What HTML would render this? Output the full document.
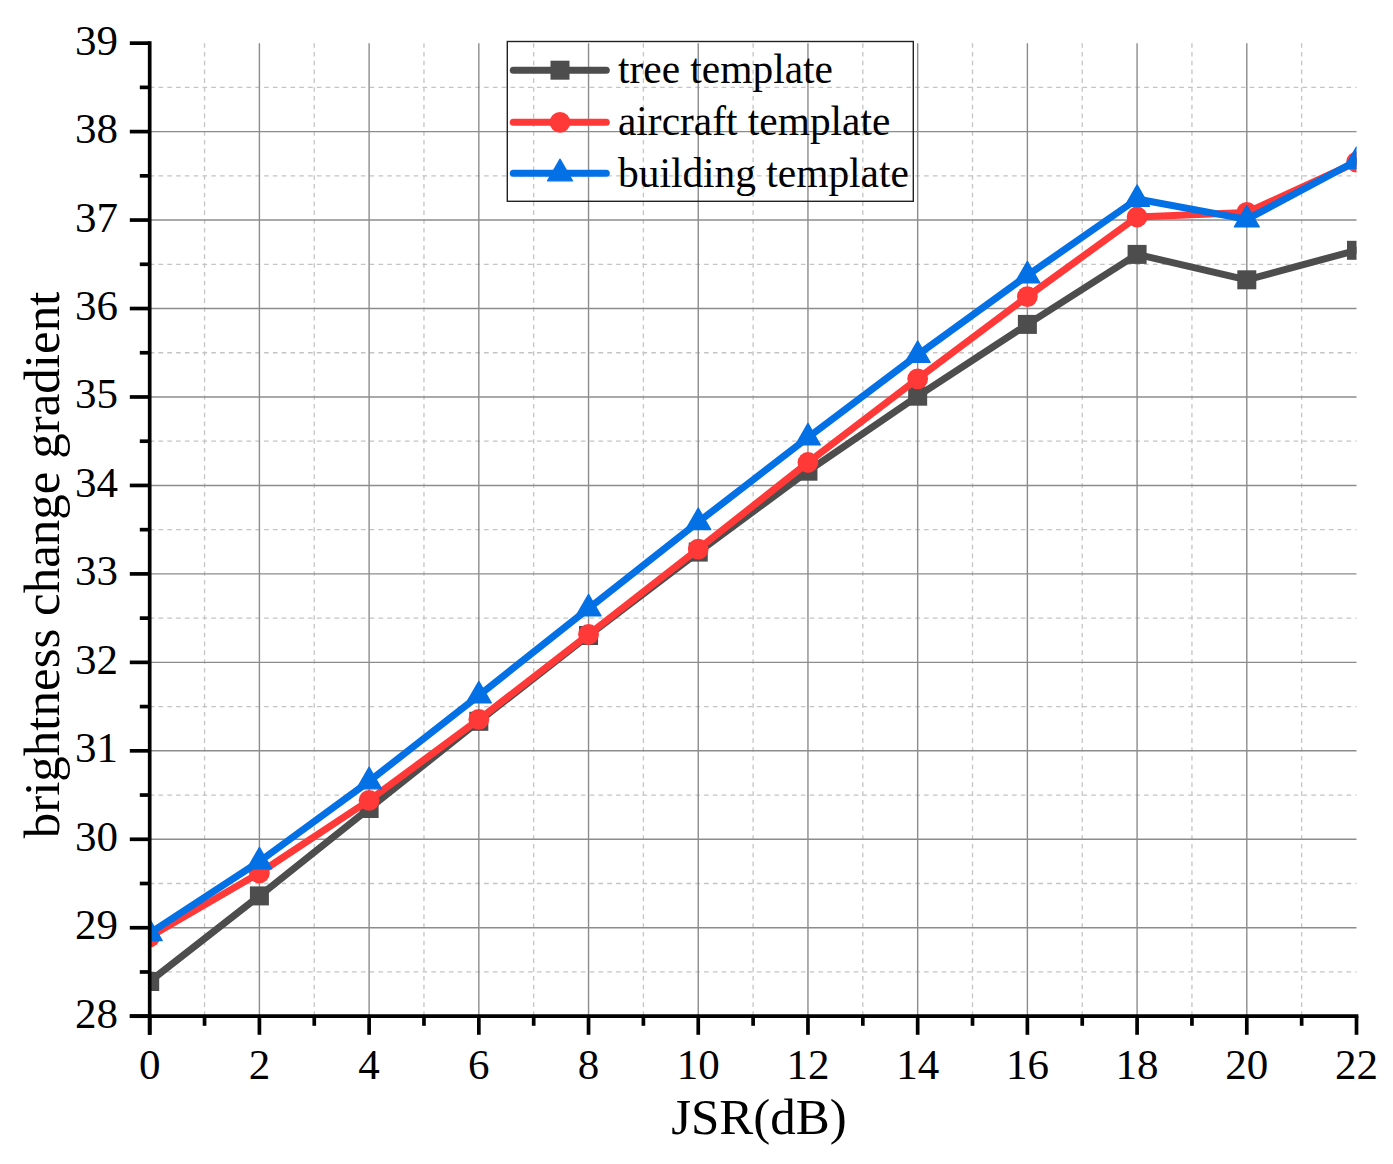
<!DOCTYPE html>
<html><head><meta charset="utf-8"><title>brightness change gradient vs JSR</title>
<style>
html,body{margin:0;padding:0;background:#fff;}
body{width:1393px;height:1164px;overflow:hidden;}
svg{display:block;}
text{font-family:"Liberation Serif",serif;fill:#000;}
</style></head><body>
<svg width="1393" height="1164" viewBox="0 0 1393 1164">
<rect x="0" y="0" width="1393" height="1164" fill="#fff"/>
<defs><clipPath id="pc"><rect x="149.70" y="13.14" width="1206.81" height="1003.06"/></clipPath></defs>
<g stroke="#c4c4c4" stroke-width="1.3" stroke-dasharray="4.6 4.2" fill="none">
<line x1="204.55" y1="43.14" x2="204.55" y2="1016.20"/>
<line x1="314.26" y1="43.14" x2="314.26" y2="1016.20"/>
<line x1="423.97" y1="43.14" x2="423.97" y2="1016.20"/>
<line x1="533.68" y1="43.14" x2="533.68" y2="1016.20"/>
<line x1="643.39" y1="43.14" x2="643.39" y2="1016.20"/>
<line x1="753.11" y1="43.14" x2="753.11" y2="1016.20"/>
<line x1="862.82" y1="43.14" x2="862.82" y2="1016.20"/>
<line x1="972.52" y1="43.14" x2="972.52" y2="1016.20"/>
<line x1="1082.23" y1="43.14" x2="1082.23" y2="1016.20"/>
<line x1="1191.94" y1="43.14" x2="1191.94" y2="1016.20"/>
<line x1="1301.65" y1="43.14" x2="1301.65" y2="1016.20"/>
<line x1="149.70" y1="971.97" x2="1356.51" y2="971.97"/>
<line x1="149.70" y1="883.51" x2="1356.51" y2="883.51"/>
<line x1="149.70" y1="795.05" x2="1356.51" y2="795.05"/>
<line x1="149.70" y1="706.59" x2="1356.51" y2="706.59"/>
<line x1="149.70" y1="618.13" x2="1356.51" y2="618.13"/>
<line x1="149.70" y1="529.67" x2="1356.51" y2="529.67"/>
<line x1="149.70" y1="441.21" x2="1356.51" y2="441.21"/>
<line x1="149.70" y1="352.75" x2="1356.51" y2="352.75"/>
<line x1="149.70" y1="264.29" x2="1356.51" y2="264.29"/>
<line x1="149.70" y1="175.83" x2="1356.51" y2="175.83"/>
<line x1="149.70" y1="87.37" x2="1356.51" y2="87.37"/>
</g>
<g stroke="#8c8c8c" stroke-width="1.4" fill="none">
<line x1="259.41" y1="43.14" x2="259.41" y2="1016.20"/>
<line x1="369.12" y1="43.14" x2="369.12" y2="1016.20"/>
<line x1="478.83" y1="43.14" x2="478.83" y2="1016.20"/>
<line x1="588.54" y1="43.14" x2="588.54" y2="1016.20"/>
<line x1="698.25" y1="43.14" x2="698.25" y2="1016.20"/>
<line x1="807.96" y1="43.14" x2="807.96" y2="1016.20"/>
<line x1="917.67" y1="43.14" x2="917.67" y2="1016.20"/>
<line x1="1027.38" y1="43.14" x2="1027.38" y2="1016.20"/>
<line x1="1137.09" y1="43.14" x2="1137.09" y2="1016.20"/>
<line x1="1246.80" y1="43.14" x2="1246.80" y2="1016.20"/>
<line x1="149.70" y1="927.74" x2="1356.51" y2="927.74"/>
<line x1="149.70" y1="839.28" x2="1356.51" y2="839.28"/>
<line x1="149.70" y1="750.82" x2="1356.51" y2="750.82"/>
<line x1="149.70" y1="662.36" x2="1356.51" y2="662.36"/>
<line x1="149.70" y1="573.90" x2="1356.51" y2="573.90"/>
<line x1="149.70" y1="485.44" x2="1356.51" y2="485.44"/>
<line x1="149.70" y1="396.98" x2="1356.51" y2="396.98"/>
<line x1="149.70" y1="308.52" x2="1356.51" y2="308.52"/>
<line x1="149.70" y1="220.06" x2="1356.51" y2="220.06"/>
<line x1="149.70" y1="131.60" x2="1356.51" y2="131.60"/>
</g>
<g clip-path="url(#pc)">
<polyline points="149.70,981.50 259.41,895.90 369.12,808.50 478.83,721.30 588.54,635.50 698.25,552.10 807.96,471.20 917.67,396.20 1027.38,324.40 1137.09,254.40 1246.80,279.80 1356.51,250.30" fill="none" stroke="#4d4d4d" stroke-width="7.0" stroke-linejoin="round" stroke-linecap="round"/>
<rect x="140.20" y="972.00" width="19.00" height="19.00" fill="#4d4d4d"/>
<rect x="249.91" y="886.40" width="19.00" height="19.00" fill="#4d4d4d"/>
<rect x="359.62" y="799.00" width="19.00" height="19.00" fill="#4d4d4d"/>
<rect x="469.33" y="711.80" width="19.00" height="19.00" fill="#4d4d4d"/>
<rect x="579.04" y="626.00" width="19.00" height="19.00" fill="#4d4d4d"/>
<rect x="688.75" y="542.60" width="19.00" height="19.00" fill="#4d4d4d"/>
<rect x="798.46" y="461.70" width="19.00" height="19.00" fill="#4d4d4d"/>
<rect x="908.17" y="386.70" width="19.00" height="19.00" fill="#4d4d4d"/>
<rect x="1017.88" y="314.90" width="19.00" height="19.00" fill="#4d4d4d"/>
<rect x="1127.59" y="244.90" width="19.00" height="19.00" fill="#4d4d4d"/>
<rect x="1237.30" y="270.30" width="19.00" height="19.00" fill="#4d4d4d"/>
<rect x="1347.01" y="240.80" width="19.00" height="19.00" fill="#4d4d4d"/>
<polyline points="149.70,936.80 259.41,873.00 369.12,800.30 478.83,719.40 588.54,634.50 698.25,549.10 807.96,462.50 917.67,378.80 1027.38,296.60 1137.09,217.00 1246.80,212.40 1356.51,162.20" fill="none" stroke="#ff3838" stroke-width="7.0" stroke-linejoin="round" stroke-linecap="round"/>
<circle cx="149.70" cy="936.80" r="10.40" fill="#ff3838"/>
<circle cx="259.41" cy="873.00" r="10.40" fill="#ff3838"/>
<circle cx="369.12" cy="800.30" r="10.40" fill="#ff3838"/>
<circle cx="478.83" cy="719.40" r="10.40" fill="#ff3838"/>
<circle cx="588.54" cy="634.50" r="10.40" fill="#ff3838"/>
<circle cx="698.25" cy="549.10" r="10.40" fill="#ff3838"/>
<circle cx="807.96" cy="462.50" r="10.40" fill="#ff3838"/>
<circle cx="917.67" cy="378.80" r="10.40" fill="#ff3838"/>
<circle cx="1027.38" cy="296.60" r="10.40" fill="#ff3838"/>
<circle cx="1137.09" cy="217.00" r="10.40" fill="#ff3838"/>
<circle cx="1246.80" cy="212.40" r="10.40" fill="#ff3838"/>
<circle cx="1356.51" cy="162.20" r="10.40" fill="#ff3838"/>
<polyline points="149.70,933.10 259.41,861.50 369.12,781.30 478.83,695.40 588.54,608.40 698.25,522.10 807.96,437.50 917.67,354.90 1027.38,275.40 1137.09,199.00 1246.80,219.40 1356.51,160.90" fill="none" stroke="#0470e6" stroke-width="7.0" stroke-linejoin="round" stroke-linecap="round"/>
<path d="M149.70 918.97L162.20 940.62L137.20 940.62Z" fill="#0470e6" stroke="#0470e6" stroke-width="1.2" stroke-linejoin="round"/>
<path d="M259.41 847.37L271.91 869.02L246.91 869.02Z" fill="#0470e6" stroke="#0470e6" stroke-width="1.2" stroke-linejoin="round"/>
<path d="M369.12 767.17L381.62 788.82L356.62 788.82Z" fill="#0470e6" stroke="#0470e6" stroke-width="1.2" stroke-linejoin="round"/>
<path d="M478.83 681.27L491.33 702.92L466.33 702.92Z" fill="#0470e6" stroke="#0470e6" stroke-width="1.2" stroke-linejoin="round"/>
<path d="M588.54 594.27L601.04 615.92L576.04 615.92Z" fill="#0470e6" stroke="#0470e6" stroke-width="1.2" stroke-linejoin="round"/>
<path d="M698.25 507.97L710.75 529.62L685.75 529.62Z" fill="#0470e6" stroke="#0470e6" stroke-width="1.2" stroke-linejoin="round"/>
<path d="M807.96 423.37L820.46 445.02L795.46 445.02Z" fill="#0470e6" stroke="#0470e6" stroke-width="1.2" stroke-linejoin="round"/>
<path d="M917.67 340.77L930.17 362.42L905.17 362.42Z" fill="#0470e6" stroke="#0470e6" stroke-width="1.2" stroke-linejoin="round"/>
<path d="M1027.38 261.27L1039.88 282.92L1014.88 282.92Z" fill="#0470e6" stroke="#0470e6" stroke-width="1.2" stroke-linejoin="round"/>
<path d="M1137.09 184.87L1149.59 206.52L1124.59 206.52Z" fill="#0470e6" stroke="#0470e6" stroke-width="1.2" stroke-linejoin="round"/>
<path d="M1246.80 205.27L1259.30 226.92L1234.30 226.92Z" fill="#0470e6" stroke="#0470e6" stroke-width="1.2" stroke-linejoin="round"/>
<path d="M1356.51 146.77L1369.01 168.42L1344.01 168.42Z" fill="#0470e6" stroke="#0470e6" stroke-width="1.2" stroke-linejoin="round"/>
</g>
<g stroke="#000" stroke-width="3.7" fill="none" stroke-linecap="butt">
<line x1="149.70" y1="41.29" x2="149.70" y2="1034.80"/>
<line x1="129.80" y1="1016.20" x2="1358.36" y2="1016.20"/>
<line x1="149.70" y1="1016.20" x2="149.70" y2="1034.80"/>
<line x1="204.55" y1="1016.20" x2="204.55" y2="1025.80"/>
<line x1="259.41" y1="1016.20" x2="259.41" y2="1034.80"/>
<line x1="314.26" y1="1016.20" x2="314.26" y2="1025.80"/>
<line x1="369.12" y1="1016.20" x2="369.12" y2="1034.80"/>
<line x1="423.97" y1="1016.20" x2="423.97" y2="1025.80"/>
<line x1="478.83" y1="1016.20" x2="478.83" y2="1034.80"/>
<line x1="533.68" y1="1016.20" x2="533.68" y2="1025.80"/>
<line x1="588.54" y1="1016.20" x2="588.54" y2="1034.80"/>
<line x1="643.39" y1="1016.20" x2="643.39" y2="1025.80"/>
<line x1="698.25" y1="1016.20" x2="698.25" y2="1034.80"/>
<line x1="753.11" y1="1016.20" x2="753.11" y2="1025.80"/>
<line x1="807.96" y1="1016.20" x2="807.96" y2="1034.80"/>
<line x1="862.82" y1="1016.20" x2="862.82" y2="1025.80"/>
<line x1="917.67" y1="1016.20" x2="917.67" y2="1034.80"/>
<line x1="972.52" y1="1016.20" x2="972.52" y2="1025.80"/>
<line x1="1027.38" y1="1016.20" x2="1027.38" y2="1034.80"/>
<line x1="1082.23" y1="1016.20" x2="1082.23" y2="1025.80"/>
<line x1="1137.09" y1="1016.20" x2="1137.09" y2="1034.80"/>
<line x1="1191.94" y1="1016.20" x2="1191.94" y2="1025.80"/>
<line x1="1246.80" y1="1016.20" x2="1246.80" y2="1034.80"/>
<line x1="1301.65" y1="1016.20" x2="1301.65" y2="1025.80"/>
<line x1="1356.51" y1="1016.20" x2="1356.51" y2="1034.80"/>
<line x1="129.80" y1="1016.20" x2="149.70" y2="1016.20"/>
<line x1="139.80" y1="971.97" x2="149.70" y2="971.97"/>
<line x1="129.80" y1="927.74" x2="149.70" y2="927.74"/>
<line x1="139.80" y1="883.51" x2="149.70" y2="883.51"/>
<line x1="129.80" y1="839.28" x2="149.70" y2="839.28"/>
<line x1="139.80" y1="795.05" x2="149.70" y2="795.05"/>
<line x1="129.80" y1="750.82" x2="149.70" y2="750.82"/>
<line x1="139.80" y1="706.59" x2="149.70" y2="706.59"/>
<line x1="129.80" y1="662.36" x2="149.70" y2="662.36"/>
<line x1="139.80" y1="618.13" x2="149.70" y2="618.13"/>
<line x1="129.80" y1="573.90" x2="149.70" y2="573.90"/>
<line x1="139.80" y1="529.67" x2="149.70" y2="529.67"/>
<line x1="129.80" y1="485.44" x2="149.70" y2="485.44"/>
<line x1="139.80" y1="441.21" x2="149.70" y2="441.21"/>
<line x1="129.80" y1="396.98" x2="149.70" y2="396.98"/>
<line x1="139.80" y1="352.75" x2="149.70" y2="352.75"/>
<line x1="129.80" y1="308.52" x2="149.70" y2="308.52"/>
<line x1="139.80" y1="264.29" x2="149.70" y2="264.29"/>
<line x1="129.80" y1="220.06" x2="149.70" y2="220.06"/>
<line x1="139.80" y1="175.83" x2="149.70" y2="175.83"/>
<line x1="129.80" y1="131.60" x2="149.70" y2="131.60"/>
<line x1="139.80" y1="87.37" x2="149.70" y2="87.37"/>
<line x1="129.80" y1="43.14" x2="149.70" y2="43.14"/>
</g>
<g font-size="43" text-anchor="middle">
<text x="149.70" y="1079.00">0</text>
<text x="259.41" y="1079.00">2</text>
<text x="369.12" y="1079.00">4</text>
<text x="478.83" y="1079.00">6</text>
<text x="588.54" y="1079.00">8</text>
<text x="698.25" y="1079.00">10</text>
<text x="807.96" y="1079.00">12</text>
<text x="917.67" y="1079.00">14</text>
<text x="1027.38" y="1079.00">16</text>
<text x="1137.09" y="1079.00">18</text>
<text x="1246.80" y="1079.00">20</text>
<text x="1356.51" y="1079.00">22</text>
</g>
<g font-size="43" text-anchor="end">
<text x="118.00" y="1027.70">28</text>
<text x="118.00" y="939.24">29</text>
<text x="118.00" y="850.78">30</text>
<text x="118.00" y="762.32">31</text>
<text x="118.00" y="673.86">32</text>
<text x="118.00" y="585.40">33</text>
<text x="118.00" y="496.94">34</text>
<text x="118.00" y="408.48">35</text>
<text x="118.00" y="320.02">36</text>
<text x="118.00" y="231.56">37</text>
<text x="118.00" y="143.10">38</text>
<text x="118.00" y="54.64">39</text>
</g>
<text x="759" y="1134.3" font-size="51" text-anchor="middle">JSR(dB)</text>
<text transform="translate(58.5 565) rotate(-90)" font-size="51" text-anchor="middle">brightness change gradient</text>
<rect x="507.3" y="41.5" width="406" height="159.8" fill="none" stroke="#222" stroke-width="1.4"/>
<line x1="513.30" y1="70.20" x2="606.30" y2="70.20" stroke="#4d4d4d" stroke-width="7.0" stroke-linecap="round"/>
<rect x="550.50" y="60.70" width="19.00" height="19.00" fill="#4d4d4d"/>
<text x="618" y="83.40" font-size="41.4">tree template</text>
<line x1="513.30" y1="122.30" x2="606.30" y2="122.30" stroke="#ff3838" stroke-width="7.0" stroke-linecap="round"/>
<circle cx="560.00" cy="122.30" r="10.40" fill="#ff3838"/>
<text x="618" y="135.20" font-size="41.4">aircraft template</text>
<line x1="513.30" y1="173.30" x2="606.30" y2="173.30" stroke="#0470e6" stroke-width="7.0" stroke-linecap="round"/>
<path d="M560.00 159.17L572.50 180.82L547.50 180.82Z" fill="#0470e6" stroke="#0470e6" stroke-width="1.2" stroke-linejoin="round"/>
<text x="618" y="186.90" font-size="41.4">building template</text>
</svg>
</body></html>
